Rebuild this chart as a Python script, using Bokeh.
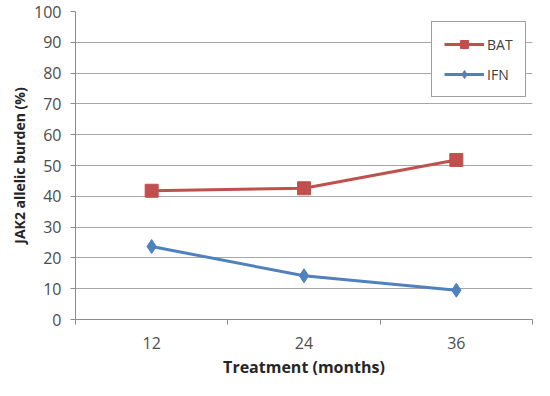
from bokeh.plotting import figure
from bokeh.models import FixedTicker, Range1d, Legend, LegendItem
from bokeh.embed import file_html
from bokeh.resources import INLINE

categories = ["12", "24", "36"]
bat = [41.8, 42.6, 51.8]
ifn = [23.7, 14.2, 9.5]
y_ticks = [0, 10, 20, 30, 40, 50, 60, 70, 80, 90, 100]

xpos = [i + 0.5 for i in range(len(categories))]

FONT = "Open Sans"
p = figure(width=534, height=380, output_backend="svg", toolbar_location=None,
           x_range=Range1d(0, len(categories)), y_range=Range1d(0, 100),
           min_border_left=75, min_border_right=2, min_border_top=11, min_border_bottom=56)
p.outline_line_color = None
p.background_fill_color = "white"

# x axis
p.xaxis.ticker = FixedTicker(ticks=xpos, minor_ticks=list(range(len(categories) + 1)))
p.xaxis.major_label_overrides = {x: c for x, c in zip(xpos, categories)}
p.xaxis.major_tick_out = 0
p.xaxis.major_tick_in = 0
p.xaxis.minor_tick_out = 5
p.xaxis.minor_tick_in = 0
p.xaxis.minor_tick_line_color = "#8c8c8c"
p.xaxis.axis_line_color = "#8c8c8c"
p.xaxis.axis_label = "Treatment (months)"
p.xaxis.major_label_standoff = 12
p.xaxis.axis_label_standoff = 4
p.xgrid.grid_line_color = None

# y axis
p.yaxis.ticker = FixedTicker(ticks=y_ticks)
p.yaxis.minor_tick_line_color = None
p.yaxis.major_tick_out = 5
p.yaxis.major_tick_in = 0
p.yaxis.major_tick_line_color = "#8c8c8c"
p.yaxis.axis_line_color = "#8c8c8c"
p.yaxis.axis_label = "JAK2 allelic burden (%)"
p.yaxis.major_label_standoff = 9
p.yaxis.axis_label_standoff = 2
p.ygrid.grid_line_color = "#a6a6a6"
p.ygrid.grid_line_width = 1

for ax in (p.xaxis, p.yaxis):
    ax.major_label_text_font = FONT
    ax.major_label_text_font_size = "16px"
    ax.major_label_text_color = "#4d4d4d"
    ax.axis_label_text_font = FONT
    ax.axis_label_text_font_style = "bold"
    ax.axis_label_text_color = "#262626"
p.xaxis.axis_label_text_font_size = "16px"
p.yaxis.axis_label_text_font_size = "14px"

red = "#C0504D"
blue = "#4F81BD"
l1 = p.line(xpos, bat, line_color=red, line_width=3)
s1 = p.scatter(xpos, bat, marker="square", size=13, fill_color=red, line_color=red)
l2 = p.line(xpos, ifn, line_color=blue, line_width=3)
s2 = p.scatter(xpos, ifn, marker="diamond", size=14, fill_color=blue, line_color=blue)

legend = Legend(items=[LegendItem(label="BAT", renderers=[l1, s1]),
                       LegendItem(label="IFN", renderers=[l2, s2])],
                location=(356, 222))
legend.border_line_color = "#404040"
legend.border_line_width = 1
legend.background_fill_alpha = 1
legend.label_text_font = FONT
legend.label_text_font_size = "14px"
legend.label_text_color = "#404040"
legend.glyph_width = 40
legend.glyph_height = 20
legend.spacing = 10
legend.padding = 12
legend.margin = 0
legend.label_standoff = 3
p.add_layout(legend)

open("out.html", "w").write(file_html(p, INLINE))
